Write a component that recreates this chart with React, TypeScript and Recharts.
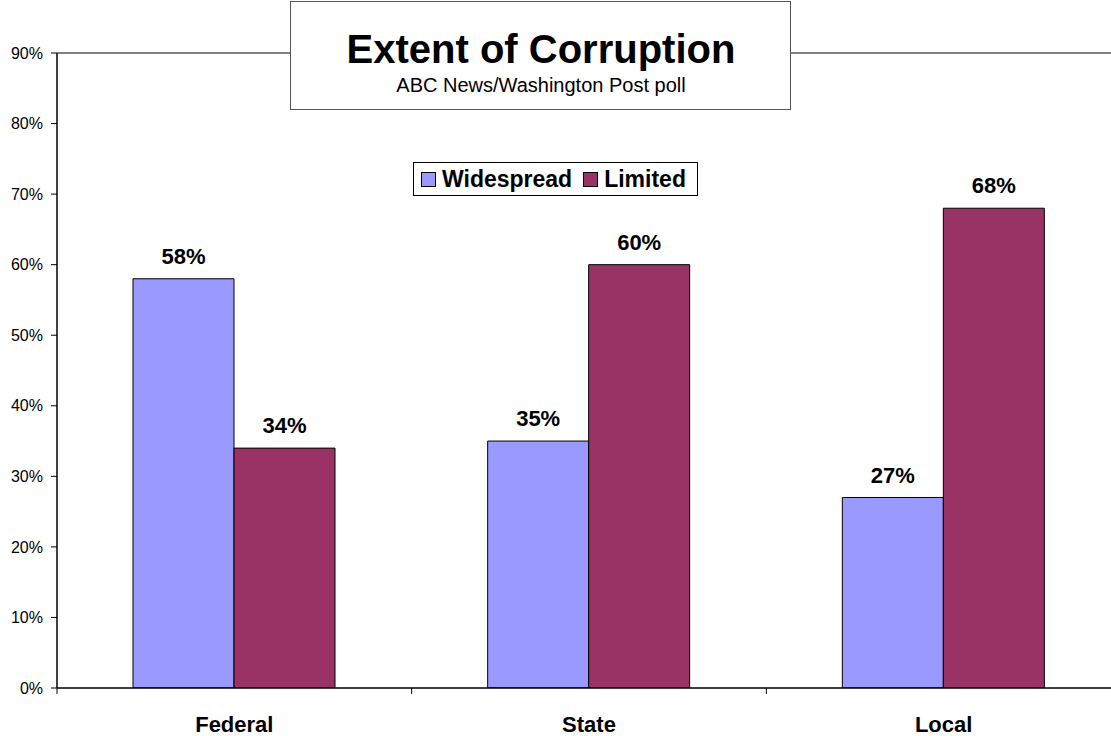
import { BarChart, Bar, XAxis, YAxis, Legend, LabelList, ReferenceLine } from "recharts";

const categories = ["Federal", "State", "Local"];
const seriesNames = ["Widespread", "Limited"];
const widespread = [58, 35, 27];
const limited = [34, 60, 68];
const yTicks = [0, 10, 20, 30, 40, 50, 60, 70, 80, 90];

const title = "Extent of Corruption";
const subtitle = "ABC News/Washington Post poll";

const data = categories.map((name, i) => ({
  name,
  Widespread: widespread[i],
  Limited: limited[i],
}));

const font = "'Liberation Sans', Arial, Helvetica, sans-serif";

function CategoryTick(props: any) {
  const { x, y, payload, index, visibleTicksCount } = props;
  const half = payload?.offset ?? 0;
  const isLast = index === visibleTicksCount - 1;
  return (
    <g>
      <line x1={x - half} x2={x - half} y1={y - 6} y2={y} stroke="#000" />
      {isLast && <line x1={x + half} x2={x + half} y1={y - 6} y2={y} stroke="#000" />}
      <text x={x} y={y + 38} textAnchor="middle" fontFamily={font} fontSize={22} fontWeight="bold" fill="#000">
        {payload.value}
      </text>
    </g>
  );
}

function LegendBox(props: any) {
  // keep the series in their original order (legend sorts by name otherwise)
  const items = [...(props.payload || [])].sort(
    (a: any, b: any) => seriesNames.indexOf(a.value) - seriesNames.indexOf(b.value)
  );
  return (
    <div
      style={{
        display: "flex",
        alignItems: "center",
        border: "1px solid #000",
        background: "#fff",
        width: 283,
        height: 32,
        boxSizing: "content-box",
        fontFamily: font,
        fontSize: 23,
        fontWeight: "bold",
        color: "#000",
      }}
    >
      {items.map((item: any, i: number) => (
        <span key={item.value} style={{ display: "flex", alignItems: "center", marginLeft: i === 0 ? 7 : 11 }}>
          <span
            style={{
              display: "inline-block",
              width: 13,
              height: 13,
              border: "1px solid #000",
              background: item.color,
              marginRight: 6,
            }}
          />
          {item.value}
        </span>
      ))}
    </div>
  );
}

export default function App() {
  return (
    <div style={{ position: "absolute", left: 0, top: 0, width: 1111, height: 736, overflow: "hidden", background: "#fff" }}>
      <BarChart
        width={1125}
        height={736}
        data={data}
        margin={{ top: 53, right: 4, left: 0, bottom: 0 }}
        barCategoryGap={76}
        barGap={0}
      >
        <ReferenceLine y={90} stroke="#808080" strokeWidth={2} />
        <XAxis
          dataKey="name"
          height={48}
          tickLine={false}
          tickSize={6}
          tickMargin={0}
          axisLine={{ stroke: "#000", strokeWidth: 1.5 }}
          tick={<CategoryTick />}
          interval={0}
        />
        <YAxis
          width={57}
          domain={[0, 90]}
          ticks={yTicks}
          tickFormatter={(v: number) => `${v}%`}
          tickSize={6}
          tickMargin={8}
          tickLine={{ stroke: "#000" }}
          axisLine={{ stroke: "#000", strokeWidth: 1.5 }}
          tick={{ fill: "#000", fontFamily: font, fontSize: 16 }}
          allowDataOverflow
        />
        <Legend
          layout="horizontal"
          verticalAlign="middle"
          align="center"
          content={<LegendBox />}
          wrapperStyle={{ left: 413, top: 162, width: "auto", height: "auto" }}
        />
        <Bar dataKey="Widespread" fill="#9999FF" stroke="#000" strokeWidth={1} isAnimationActive={false}>
          <LabelList
            dataKey="Widespread"
            position="top"
            offset={15}
            formatter={(v: number) => `${v}%`}
            style={{ fontFamily: font, fontSize: 22, fontWeight: "bold", fill: "#000" }}
          />
        </Bar>
        <Bar dataKey="Limited" fill="#993366" stroke="#000" strokeWidth={1} isAnimationActive={false}>
          <LabelList
            dataKey="Limited"
            position="top"
            offset={15}
            formatter={(v: number) => `${v}%`}
            style={{ fontFamily: font, fontSize: 22, fontWeight: "bold", fill: "#000" }}
          />
        </Bar>
      </BarChart>
      <svg width={1111} height={736} style={{ position: "absolute", left: 0, top: 0, pointerEvents: "none" }}>
        <rect x={290.5} y={1.5} width={500} height={108} fill="#fff" stroke="#555" strokeWidth={1} />
        <text x={541} y={63} textAnchor="middle" fontFamily={font} fontSize={40} fontWeight="bold" fill="#000">
          {title}
        </text>
        <text x={541} y={92} textAnchor="middle" fontFamily={font} fontSize={20} fill="#000">
          {subtitle}
        </text>
      </svg>
    </div>
  );
}
